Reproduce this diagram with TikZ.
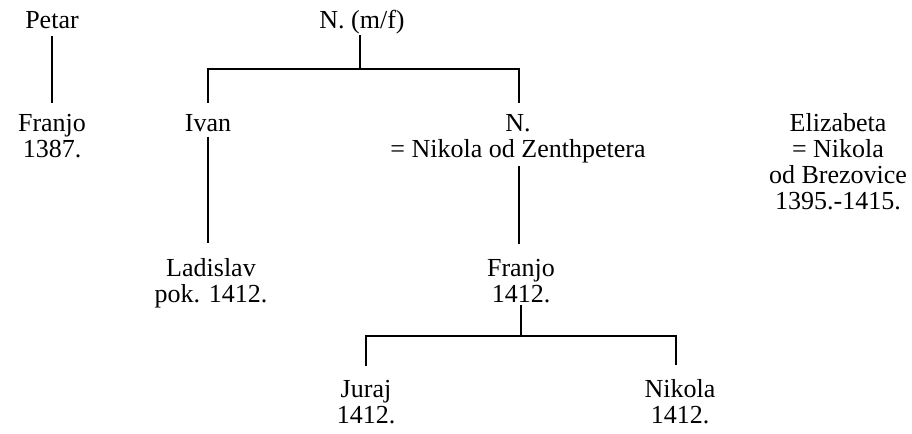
\documentclass[tikz,border=0pt]{standalone}
\usepackage{fontspec}
\setmainfont{Liberation Serif}
\usetikzlibrary{positioning}

\begin{document}
\begin{tikzpicture}[x=0.75pt, y=-0.75pt,
    person/.style={align=center, inner sep=0pt, anchor=base,
      font=\fontsize{19.5}{19.5}\selectfont},
    link/.style={line width=1pt}]
  \useasboundingbox (0,0) rectangle (912,434);
  % first generation (placed at the baseline of the last line)
  \node[person] (petar) at (52,29) {Petar};
  \node[person] (nmf) at (362,29) {N. (m/f)};
  % second generation
  \node[person] (franjoP) at (52,158) {Franjo\\1387.};
  \node[person] (ivan) at (208,132) {Ivan};
  \node[person] (nwife) at (518,158) {N.\\= Nikola od Zenthpetera};
  \node[person] (eliz) at (838,210) {Elizabeta\\= Nikola\\od Brezovice\\1395.-1415.};
  % third generation
  \node[person] (ladislav) at (211,302) {Ladislav\\pok. 1412.};
  \node[person] (franjoN) at (521,302) {Franjo\\1412.};
  % fourth generation
  \node[person] (juraj) at (366,423) {Juraj\\1412.};
  \node[person] (nikola) at (680,423) {Nikola\\1412.};
  % connectors
  \coordinate (top) at (360,69);
  \coordinate (fork) at (521,336);
  \draw[link] ([yshift=-5pt]petar.south) -- ([yshift=9pt]franjoP.north);
  \draw[link] (nmf.south -| top) -- (top);
  \draw[link] ([yshift=9pt]ivan.north -| 208,0) |- (top) -| ([yshift=9pt]nwife.north -| 519,0);
  \draw[link] ([yshift=-3pt]ivan.south) -- ([yshift=11pt]ladislav.north -| ivan);
  \draw[link] ([yshift=-2pt]nwife.south -| 519,0) -- ([yshift=11pt]franjoN.north -| 519,0);
  \draw[link] ([yshift=-1.5pt]franjoN.south -| fork) -- (fork);
  \draw[link] ([yshift=10pt]juraj.north) |- (fork) -| ([yshift=10pt]nikola.north -| 676,0);
\end{tikzpicture}
\end{document}
